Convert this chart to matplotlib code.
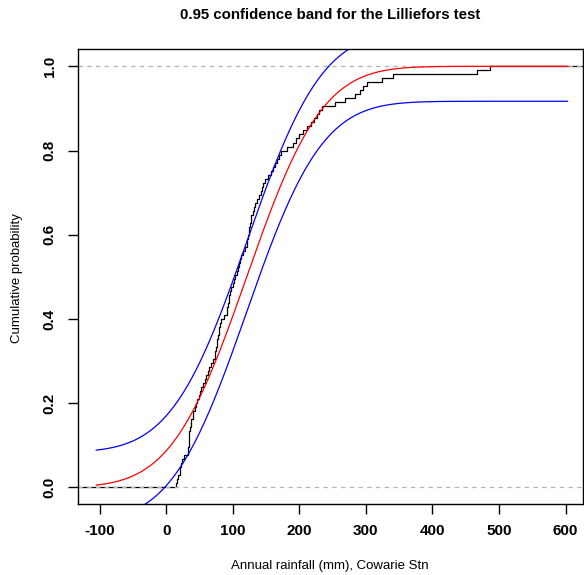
import numpy as np
import matplotlib.pyplot as plt
from math import erf, sqrt

plt.rcParams['font.family'] = ['Liberation Sans', 'DejaVu Sans']

# annual rainfall (mm), sorted
rain = [15, 16, 18, 20, 21, 23, 24, 27, 33, 33, 34, 34, 35, 35, 36, 37, 38, 40,
        41, 43, 45, 47, 49, 51, 53, 55, 58, 60, 63, 65, 68, 71, 73, 74, 75, 76,
        77, 78, 79, 80, 81, 83, 87, 91, 92, 93, 94, 95, 96, 97, 100, 102, 104,
        106, 108, 110, 111, 113, 115, 118, 121, 122, 123, 124, 125, 126, 127,
        128, 130, 132, 134, 137, 139, 142, 144, 146, 148, 153, 157, 161, 164,
        167, 170, 173, 181, 190, 195, 200, 206, 212, 217, 222, 226, 229, 234,
        254, 268, 283, 291, 296, 301, 324, 341, 467, 486]

# fitted normal and half-width of the band
mu = 121
sd = 89
band = 0.083
curve_range = (-105, 603)

x_ticks = [-100, 0, 100, 200, 300, 400, 500, 600]
y_ticks = [0.0, 0.2, 0.4, 0.6, 0.8, 1.0]
y_labels = ['0.0', '0.2', '0.4', '0.6', '0.8', '1.0']

norm_cdf = np.vectorize(lambda v: 0.5 * (1 + erf((v - mu) / (sd * sqrt(2)))))

fig = plt.figure(figsize=(5.84, 5.75), dpi=100)
ax = fig.add_axes([0.133, 0.123, 0.865, 0.791])

# empirical cdf
n = len(rain)
xs = np.concatenate([[-300], rain, [800]])
ys = np.concatenate([[0], np.arange(1, n + 1) / n, [1]])
ax.step(xs, ys, where='post', color='black', linewidth=0.9)

for h in (0, 1):
    ax.axhline(h, color='#b3b3b3', linestyle=(0, (3.5, 3.5)), linewidth=0.9)

grid = np.linspace(curve_range[0], curve_range[1], 500)
p = norm_cdf(grid)
ax.plot(grid, p, color='red', linewidth=0.9)
ax.plot(grid, p + band, color='blue', linewidth=0.9)
ax.plot(grid, p - band, color='blue', linewidth=0.9)

ax.set_xlim(-133, 626)
ax.set_ylim(-0.04, 1.04)
ax.set_xticks(x_ticks)
ax.set_xticklabels([str(t) for t in x_ticks], fontweight='bold', fontsize=11)
ax.set_yticks(y_ticks)
ax.set_yticklabels(y_labels, rotation=90, va='center', fontweight='bold', fontsize=11)
ax.tick_params(axis='x', length=7, width=1, pad=7)
ax.tick_params(axis='y', length=7, width=1, pad=8)
for s in ax.spines.values():
    s.set_linewidth(1.0)

fig.text(330 / 584, 1 - 15 / 575, '0.95 confidence band for the Lilliefors test',
         ha='center', va='center', fontweight='bold', fontsize=10.8)
fig.text(330 / 584, 1 - 566 / 575, 'Annual rainfall (mm), Cowarie Stn',
         ha='center', va='center', fontsize=9.5)
fig.text(17 / 584, 1 - 278 / 575, 'Cumulative probability',
         ha='center', va='center', rotation=90, fontsize=9.5)

fig.savefig('out.png', dpi=100)
